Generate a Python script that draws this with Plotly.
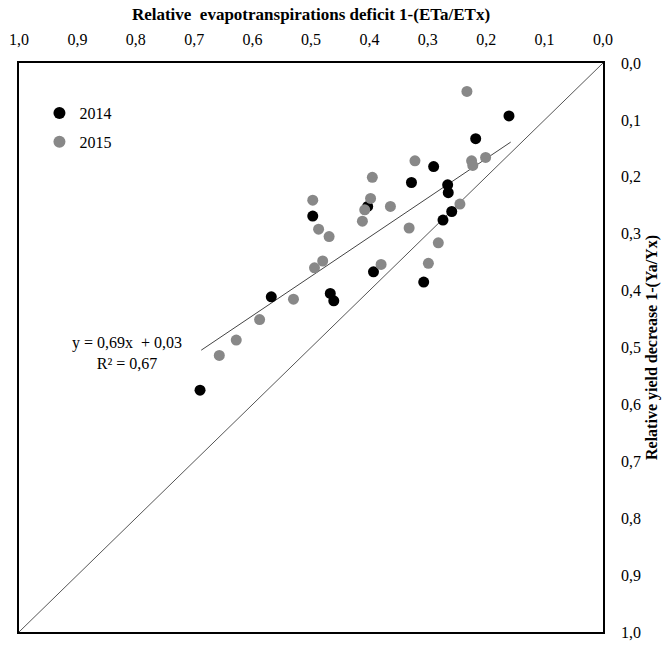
import plotly.graph_objects as go

# 2014 data: relative ET deficit (x) and relative yield decrease (y)
x2014 = [0.161, 0.218, 0.290, 0.328, 0.266, 0.265, 0.259, 0.274, 0.393, 0.307,
         0.497, 0.403, 0.568, 0.467, 0.461, 0.690]
y2014 = [0.093, 0.133, 0.182, 0.210, 0.214, 0.228, 0.261, 0.276, 0.367, 0.385,
         0.269, 0.252, 0.411, 0.405, 0.418, 0.575]

# 2015 data
x2015 = [0.233, 0.201, 0.225, 0.223, 0.322, 0.395, 0.398, 0.364, 0.245, 0.332,
         0.282, 0.299, 0.380, 0.497, 0.408, 0.412, 0.487, 0.469, 0.494, 0.480,
         0.530, 0.588, 0.628, 0.657]
y2015 = [0.050, 0.166, 0.172, 0.180, 0.172, 0.201, 0.238, 0.252, 0.248, 0.290,
         0.316, 0.352, 0.354, 0.241, 0.258, 0.278, 0.292, 0.305, 0.360, 0.348,
         0.415, 0.451, 0.487, 0.514]

# trend line coefficients and extent
slope, intercept = 0.69, 0.03
trend_x = [0.158, 0.688]
one_to_one = [0.0, 1.0]

tick_vals = [0.0, 0.1, 0.2, 0.3, 0.4, 0.5, 0.6, 0.7, 0.8, 0.9, 1.0]

FONT = "Liberation Serif"

fig = go.Figure()
fig.add_trace(go.Scatter(x=one_to_one, y=one_to_one, mode="lines",
                         line=dict(color="#555555", width=1), showlegend=False,
                         hoverinfo="skip"))
fig.add_trace(go.Scatter(x=trend_x, y=[slope * v + intercept for v in trend_x],
                         mode="lines", line=dict(color="#444444", width=1),
                         showlegend=False, hoverinfo="skip"))
fig.add_trace(go.Scatter(x=x2014, y=y2014, mode="markers", name="2014",
                         legendgroup="a",
                         marker=dict(color="#000000", size=11)))
fig.add_trace(go.Scatter(x=x2015, y=y2015, mode="markers", name="2015",
                         legendgroup="b",
                         marker=dict(color="#888888", size=11)))

fig.add_annotation(x=0.815, y=0.51, xref="x", yref="y", showarrow=False,
                   text="y = 0,69x  + 0,03<br>R² = 0,67", align="center",
                   font=dict(family=FONT, size=16, color="#000000"))

fig.update_layout(
    width=665, height=646,
    margin=dict(l=19, r=62, t=63, b=14, autoexpand=False),
    paper_bgcolor="white", plot_bgcolor="white",
    separators=",.",
    font=dict(family=FONT, size=16, color="#000000"),
    showlegend=True,
    legend=dict(x=0.035, y=0.942, xanchor="left", yanchor="top",
                bgcolor="rgba(0,0,0,0)", itemsizing="constant",
                font=dict(family=FONT, size=16), itemwidth=30,
                tracegroupgap=5),
    xaxis=dict(range=[1.0, 0.0], side="top", tickvals=tick_vals, tickformat=".1f",
               showgrid=False, zeroline=False, showline=True, mirror=True,
               automargin=False,
               linecolor="#000000", linewidth=1.5, ticks="", ticklabelstandoff=10,
               title=dict(text="<b>Relative  evapotranspirations deficit 1-(ETa/ETx)</b>",
                          font=dict(family=FONT, size=17), standoff=6)),
    yaxis=dict(range=[1.0, 0.0], side="right", tickvals=tick_vals, tickformat=".1f",
               showgrid=False, zeroline=False, showline=True, mirror=True,
               automargin=False,
               linecolor="#000000", linewidth=1.5, ticks="", ticklabelstandoff=13,
               title=dict(text="<b>Relative yield decrease 1-(Ya/Yx)</b>",
                          font=dict(family=FONT, size=16), standoff=6)),
)

fig.write_html("out.html")
